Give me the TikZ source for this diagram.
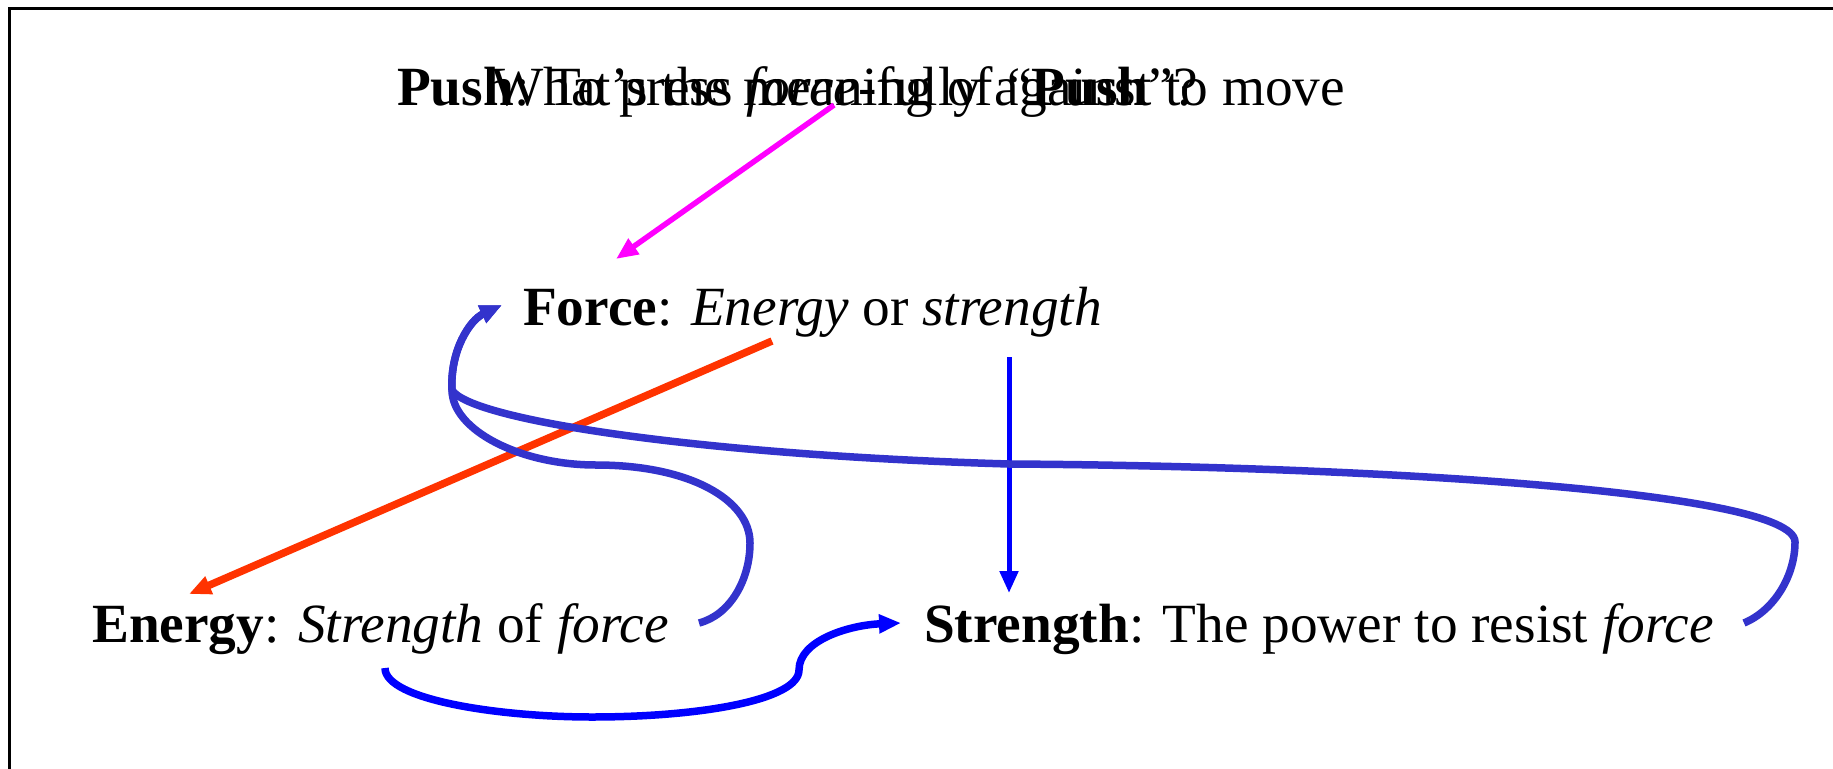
\documentclass[tikz,border=0pt]{standalone}
\usepackage{fontspec}
\setmainfont{Liberation Serif}
\usetikzlibrary{arrows.meta,calc}
\definecolor{magentaC}{RGB}{255,0,255}
\definecolor{redC}{RGB}{255,51,0}
\definecolor{blueC}{RGB}{0,0,255}
\definecolor{curveC}{RGB}{51,51,204}
\begin{document}
\begin{tikzpicture}[x=1pt,y=-1pt,
  lbl/.style={anchor=base west,inner sep=0pt,font=\fontsize{55.3}{60}\selectfont},
  tipA/.style={-{Triangle[length=22pt,width=18pt]}},
  conn/.style={line width=7.5pt,tipA},
  ]
\useasboundingbox (0,0) rectangle (1833,768);
\fill[white] (0,0) rectangle (1833,768);
\draw[line width=3pt] (9,780) -- (9,9) -- (1845,9);
% nodes
\node[lbl] (push) at (397,105) {\textbf{Push}: To press \textit{force}-fully against to move};
\node[lbl] (what) at (491,105) {What’s the meaning of “\textbf{Push}”?};
\node[lbl] (force) at (523,325) {\textbf{Force}: \textit{Energy} or \textit{strength}};
\node[lbl] (energy) at (92,642) {\textbf{Energy}: \textit{Strength} of \textit{force}};
\node[lbl] (strength) at (924,642) {\textbf{Strength}: The power to resist \textit{force}};
% connectors
\draw[conn,line width=5.5pt,magentaC] ($(push.base west)+(437,0)$) -- ($(force.base west)+(93,-66)$);
\draw[conn,redC] ($(force.base west)+(249,16)$) -- ($(energy.base west)+(97,-48)$);
\draw[conn,line width=5pt,blueC] ($(force.base west)+(486,32)$) -- ($(strength.base west)+(85,-49)$);
\draw[conn,curveC] ($(energy.base west)+(607,-19)$) .. controls (730,615) and (750,580) .. (750,543)
  .. controls (750,500) and (690,465) .. (596,465)
  .. controls (520,465) and (452,430) .. (452,390)
  .. controls (450,350) and (470,320) .. ($(force.base west)+(-21,-20)$);
\draw[conn,curveC] ($(strength.base west)+(820,-19)$) .. controls (1775,610) and (1795,575) .. (1795,542)
  .. controls (1795,490) and (1350,466) .. (1009,464)
  .. controls (700,455) and (470,420) .. (452,390)
  .. controls (450,350) and (470,320) .. ($(force.base west)+(-21,-20)$);
\draw[conn,blueC] ($(energy.base west)+(293,26)$) .. controls (385,700) and (500,717) .. (592,717)
  .. controls (700,717) and (799,700) .. (799,670)
  .. controls (799,640) and (850,625) .. ($(strength.base west)+(-23,-19)$);
\end{tikzpicture}
\end{document}
